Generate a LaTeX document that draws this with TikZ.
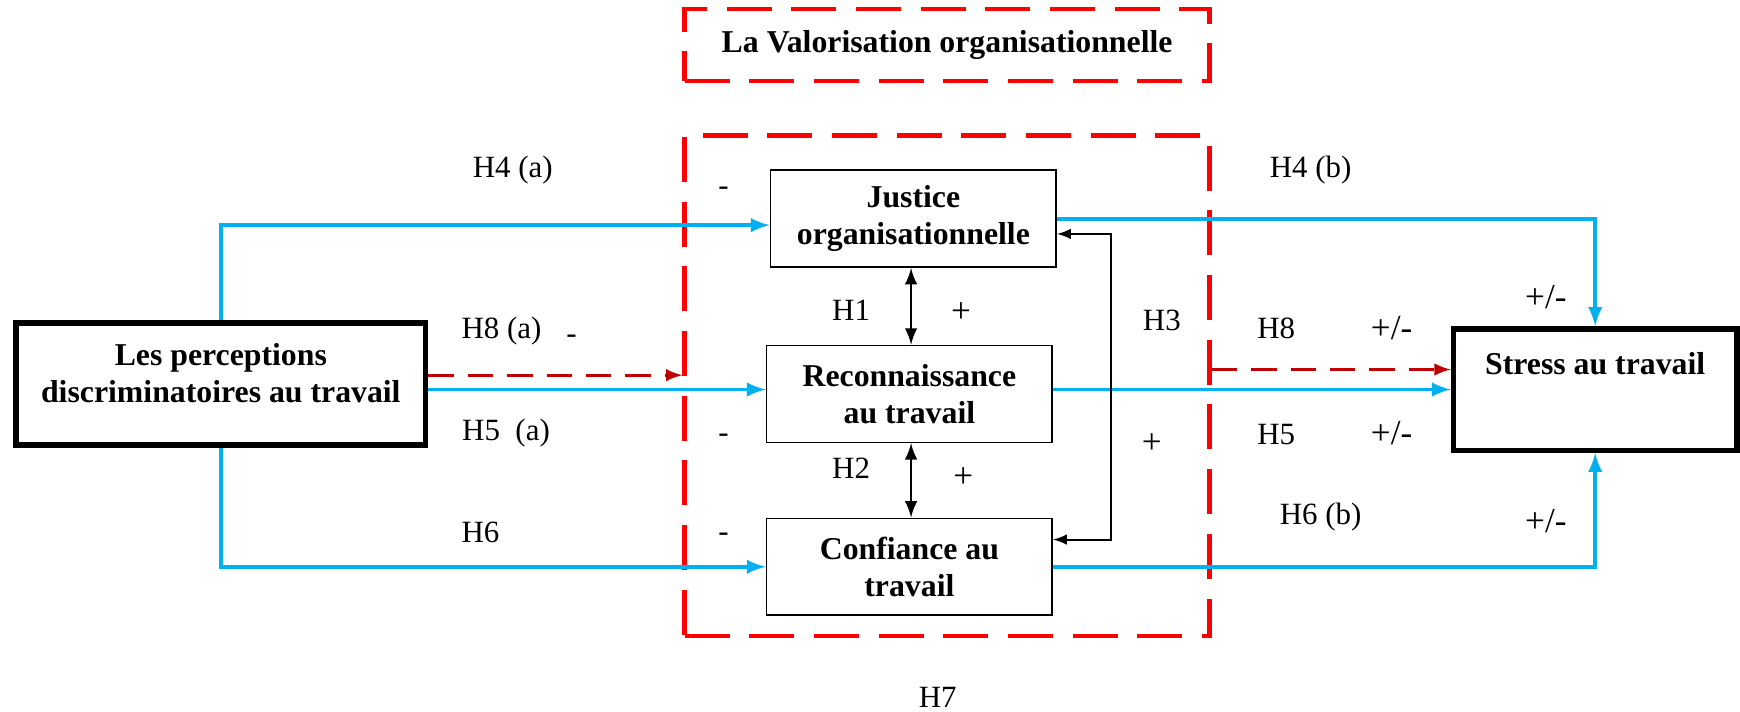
\documentclass[tikz,border=0pt]{standalone}
\usepackage{fontspec}
\setmainfont{Liberation Serif}
\usepackage{xcolor}
\usepackage{tikz}
\definecolor{skyline}{HTML}{00B0F0}
\definecolor{hypred}{HTML}{C00000}
\tikzstyle{arrow} = [-latex]
\tikzstyle{both} = [latex-latex]
\tikzstyle{box} = [draw, line width=0.6pt, minimum width=3.57cm, minimum height=1.21cm, align=center, font=\fontsize{11.3}{13.2}\selectfont\bfseries]
\tikzstyle{thickbox} = [draw, line width=2pt, minimum width=5.12cm, minimum height=1.52cm]
\tikzstyle{redframe} = [draw=red, line width=1.7pt, dash pattern=on 16pt off 7pt]
\tikzstyle{link} = [arrow, skyline, line width=1.3pt]
\tikzstyle{hyp} = [arrow, hypred, line width=1pt, dash pattern=on 9pt off 5pt]
\tikzstyle{lbl} = [font=\fontsize{11}{13}\selectfont]
\tikzstyle{sign} = [font=\fontsize{12.5}{14}\selectfont]

\begin{document}
\begin{tikzpicture}[x=0.01387cm, y=-0.01387cm, node distance=2.16cm]
	\useasboundingbox (0,0) rectangle (1568,641);

	% cadres rouges
	\node (titre) [redframe, minimum width=6.56cm, minimum height=0.9cm, font=\fontsize{11.3}{13.2}\selectfont\bfseries] at (853.5,40.5) {La Valorisation organisationnelle};
	\node (valo) [redframe, minimum width=6.56cm, minimum height=6.26cm] at (853.5,347.5) {};

	% variables
	\node (rec) [box] at (819.5,355) {Reconnaissance\\au travail};
	\node (jus) [box, above of=rec, xshift=0.05cm, yshift=0.03cm] {Justice\\organisationnelle};
	\node (conf) [box, below of=rec] {Confiance au\\travail};
	\node (perc) [thickbox] at (199,346) {};
	\node (perctxt) [font=\fontsize{11.3}{13.2}\selectfont\bfseries, align=center] at (199,336) {Les perceptions\\discriminatoires au travail};
	\node (stress) [thickbox, minimum width=3.54cm] at (1437.5,351) {};
	\node (stresstxt) [font=\fontsize{11.3}{13.2}\selectfont\bfseries] at (1437.5,328) {Stress au travail};

	% liens
	\draw [link] (perc.north) |- ([yshift=-0.08cm]jus.west);
	\draw [link] (perc.east |- stress.west) -- (perc.east |- stress.west -| rec.west);
	\draw [link] (perc.south) |- (conf.west);
	\draw [hyp] ([yshift=0.11cm]perc.east) -- ([yshift=0.11cm]perc.east -| valo.west);
	\draw [link] (jus.east) -| (stress.north);
	\draw [link] (rec.east |- stress.west) -- (stress.west);
	\draw [link] (conf.east) -| (stress.south);
	\draw [hyp] ([yshift=0.25cm]stress.west -| valo.east) -- ([yshift=0.25cm]stress.west);
	\draw [both, line width=1pt] (jus.south -| 821,0) -- (rec.north -| 821,0);
	\draw [both, line width=1pt] (rec.south -| 821,0) -- (conf.north -| 821,0);
	\draw [both, line width=0.7pt] ([yshift=-0.19cm]jus.east) -- ++(0.67cm,0) |- ([yshift=0.34cm]conf.east);

	% hypotheses
	\node (h4a) [lbl] at (462,153) {H4 (a)};
	\node (m1) [lbl] at (652,172) {-};
	\node (h8a) [lbl] at (452,298) {H8 (a)};
	\node (m2) [lbl] at (515,306) {-};
	\node (h5a) [lbl] at (456,390) {H5\ \ (a)};
	\node (m3) [lbl] at (652,395) {-};
	\node (h6) [lbl] at (433,480) {H6};
	\node (m4) [lbl] at (652,484) {-};
	\node (h1) [lbl] at (767,280) {H1};
	\node (p1) [sign] at (866,282) {+};
	\node (h2) [lbl] at (767,422) {H2};
	\node (p2) [sign] at (868,430) {+};
	\node (h3) [lbl] at (1047,289) {H3};
	\node (p3) [sign] at (1038,400) {+};
	\node (h4b) [lbl] at (1181,153) {H4 (b)};
	\node (pm1) [sign] at (1393,268) {+/-};
	\node (h8) [lbl] at (1150,296) {H8};
	\node (pm2) [sign] at (1254,296) {+/-};
	\node (h5) [lbl] at (1150,392) {H5};
	\node (pm3) [sign] at (1254,390) {+/-};
	\node (h6b) [lbl] at (1190,466) {H6 (b)};
	\node (pm4) [sign] at (1393,470) {+/-};
	\node (h7) [lbl] at (845,628) {H7};
\end{tikzpicture}
\end{document}
